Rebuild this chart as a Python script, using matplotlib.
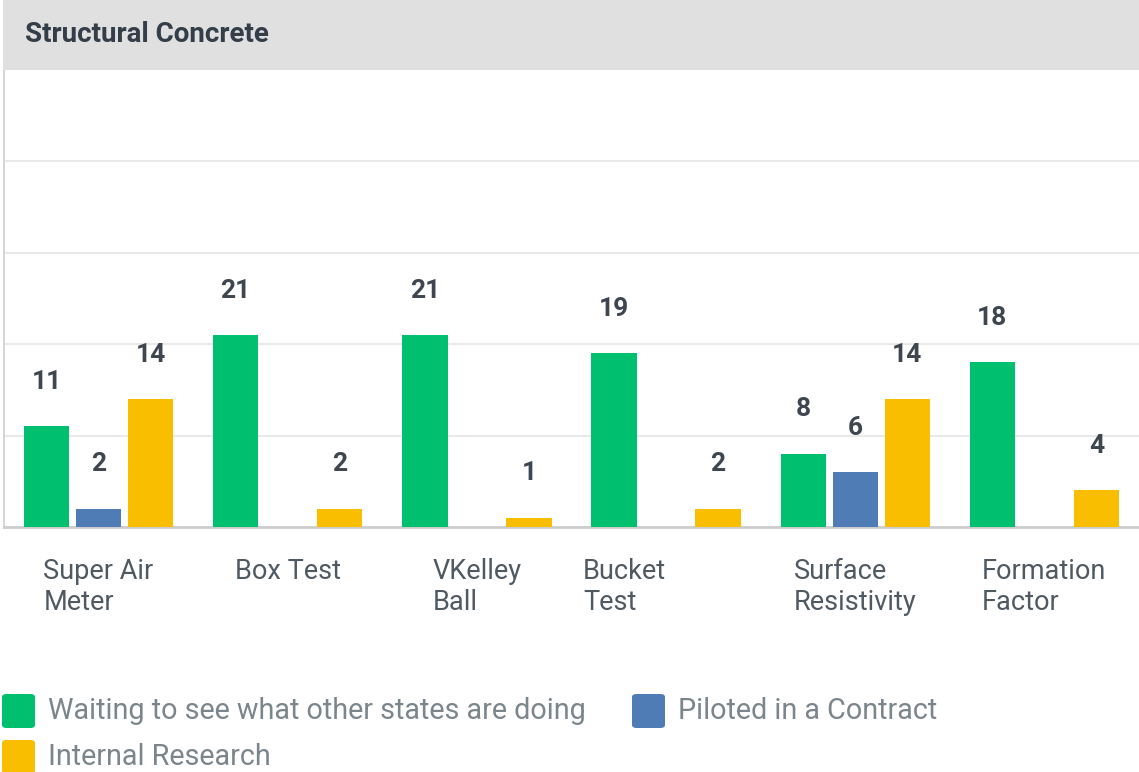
import matplotlib
matplotlib.use('Agg')
import matplotlib.pyplot as plt
from matplotlib.patches import Rectangle, FancyBboxPatch
import numpy as np

### Data ###
categories = ['Super Air\nMeter', 'Box Test', 'VKelley\nBall', 'Bucket\nTest',
              'Surface\nResistivity', 'Formation\nFactor']
series_names = ['Waiting to see what other states are doing', 'Piloted in a Contract',
                'Internal Research']
waiting = [11, 21, 21, 19, 8, 18]
piloted = [2, 0, 0, 0, 6, 0]
internal = [14, 2, 1, 2, 14, 4]
colors = ['#00bf6f', '#507cb6', '#f9be00']

plt.rcParams['font.family'] = ['Roboto', 'DejaVu Sans']

W, H = 1139, 772
fig = plt.figure(figsize=(W / 100, H / 100), dpi=100)

# header band with title
fig.patches.append(Rectangle((3 / W, 1 - 70 / H), 1, 70 / H, transform=fig.transFigure,
                             facecolor='#e0e0e0', edgecolor='none', zorder=0))
fig.text(25 / W, 1 - 34 / H, 'Structural Concrete', fontsize=20, fontweight='bold',
         color='#333e48', va='center', ha='left')

ax = fig.add_axes([4 / W, (H - 527) / H, 1135 / W, (527 - 70) / H])

x = np.arange(len(categories))
width = 0.24
step = 0.275
for i, vals in enumerate([waiting, piloted, internal]):
    pos = x + (i - 1) * step
    ax.bar(pos, vals, width, color=colors[i], zorder=3)
    for p, v in zip(pos, vals):
        if v > 0:
            ax.annotate(str(v), (p, v), xytext=(0, 32), textcoords='offset points',
                        ha='center', va='center', fontsize=19, fontweight='bold',
                        color='#3e4750')

ax.set_xlim(-0.5, len(categories) - 0.5)
ax.set_ylim(0, 50)
ax.set_yticks([10, 20, 30, 40])
ax.yaxis.grid(True, color='#e9e9e9', linewidth=1.5, zorder=0)
ax.tick_params(left=False, labelleft=False, bottom=False)
for s in ['top', 'right']:
    ax.spines[s].set_visible(False)
ax.spines['bottom'].set_color('#cccccc')
ax.spines['bottom'].set_linewidth(2)
ax.spines['left'].set_color('#d6d6d6')
ax.spines['left'].set_linewidth(1.5)

ax.set_xticks(x)
ax.set_xticklabels(categories, fontsize=19.5, color='#4f5962', multialignment='left',
                   linespacing=1.2)
ax.tick_params(axis='x', pad=19)
# "Bucket Test" sits further left in the reference
ax.get_xticklabels()[3].set_horizontalalignment('right')

# legend
legend_pos = [(2, 711), (632, 711), (2, 757)]
for (lx, ly), name, c in zip(legend_pos, series_names, colors):
    fig.patches.append(FancyBboxPatch(((lx) / W, (H - ly - 17) / H), 33 / W, 34 / H,
                                      boxstyle='round,pad=0,rounding_size=0.004',
                                      transform=fig.transFigure, facecolor=c,
                                      edgecolor='none'))
    fig.text((lx + 46) / W, (H - ly) / H, name, fontsize=20.7, color='#7b858c',
             va='center', ha='left')

fig.savefig('out.png', dpi=100)
